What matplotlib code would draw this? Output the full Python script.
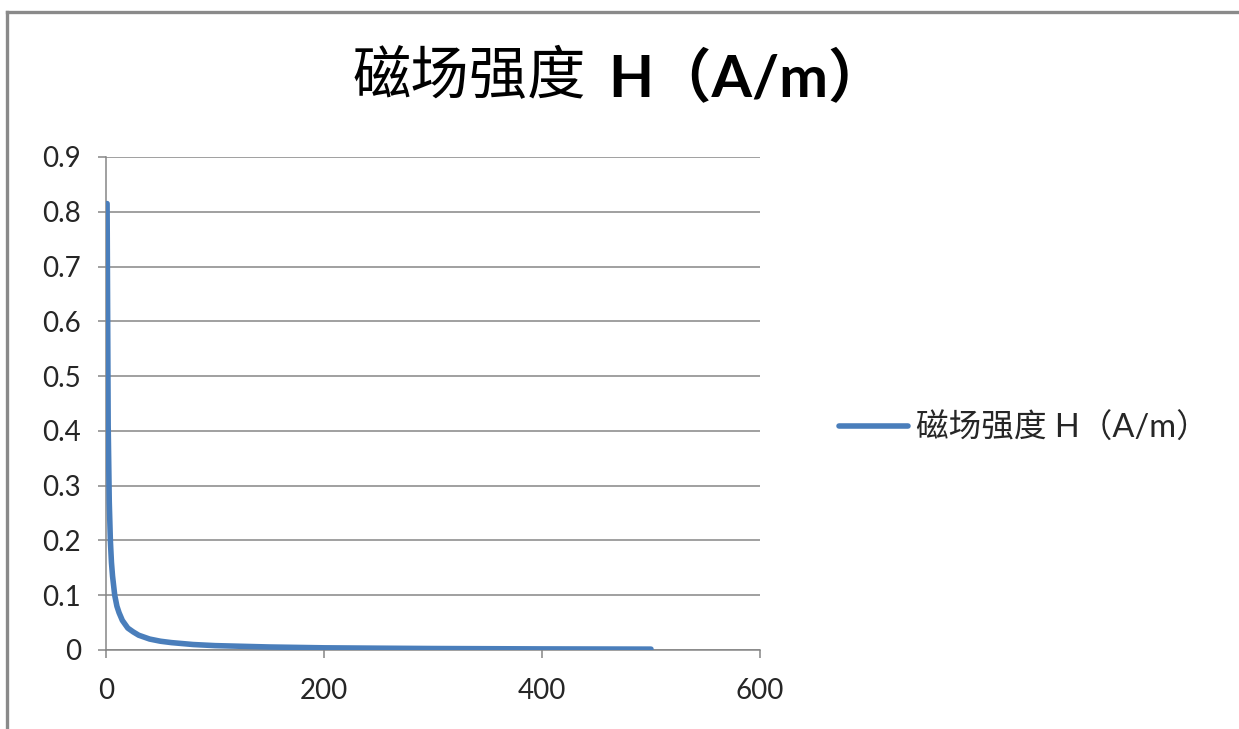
import matplotlib
matplotlib.use("Agg")
import matplotlib.pyplot as plt
from matplotlib.lines import Line2D

plt.rcParams['font.family'] = ['Lato', 'Noto Sans CJK SC', 'DejaVu Sans']

# distance and field strength readings
r_values = [1, 2, 3, 4, 5, 6, 8, 10, 12, 15, 20, 25, 30, 40, 50, 60, 80,
            100, 150, 200, 250, 300, 400, 500]
h_values = [0.815, 0.41, 0.27, 0.2, 0.16, 0.135, 0.10, 0.08, 0.068, 0.054,
            0.04, 0.033, 0.027, 0.02, 0.016, 0.0135, 0.010, 0.008, 0.0055,
            0.004, 0.0033, 0.0027, 0.002, 0.0016]

x_ticks = [0, 200, 400, 600]
y_ticks = [0, 0.1, 0.2, 0.3, 0.4, 0.5, 0.6, 0.7, 0.8, 0.9]
y_labels = ['0', '0.1', '0.2', '0.3', '0.4', '0.5', '0.6', '0.7', '0.8', '0.9']
title_cn = '磁场强度'
title_unit = 'H（A/m）'
series_name = '磁场强度 H（A/m）'

W, H = 1239, 729
fig = plt.figure(figsize=(W / 100, H / 100), dpi=100)
fig.patch.set_facecolor('white')

line_color = '#4A7EBB'
grid_color = '#868686'
text_color = '#262626'

ax = fig.add_axes([106 / W, 1 - 650 / H, (760 - 106) / W, (650 - 157) / H])
ax.plot(r_values, h_values, color=line_color, lw=4.0, solid_capstyle='round',
        solid_joinstyle='round', zorder=3)

ax.set_xlim(0, 600)
ax.set_ylim(0, 0.9)
ax.set_xticks(x_ticks)
ax.set_yticks(y_ticks)
ax.set_yticklabels(y_labels)
ax.yaxis.grid(True, color=grid_color, lw=1.1)
ax.set_axisbelow(True)
for side in ['top', 'right']:
    ax.spines[side].set_visible(False)
for side in ['left', 'bottom']:
    ax.spines[side].set_color(grid_color)
    ax.spines[side].set_linewidth(1.1)
ax.tick_params(axis='both', direction='out', length=6, width=1.1,
               color=grid_color, labelsize=20, labelcolor=text_color)
ax.tick_params(axis='y', pad=12)
ax.tick_params(axis='x', pad=14)

fig.text(352 / W, 1 - 78 / H, title_cn, fontsize=42, ha='left', va='center',
         color='black', family=['Noto Sans CJK SC'])
fig.text(608 / W, 1 - 78 / H, title_unit, fontsize=42, ha='left', va='center',
         color='black', fontweight='bold', family=['Lato', 'Noto Sans CJK SC'])

handle = Line2D([], [], color=line_color, lw=4.0, solid_capstyle='round')
fig.legend([handle], [series_name], loc='center left',
           bbox_to_anchor=(810 / W, 1 - 428 / H), frameon=False,
           fontsize=23.5, handlelength=2.1, handletextpad=0.25,
           labelcolor=text_color)

# chart frame (top and left edges)
fig.add_artist(Line2D([7 / W, 7 / W], [0, 1 - 12 / H], transform=fig.transFigure,
                      color='#8A8A8A', lw=2.4))
fig.add_artist(Line2D([7 / W, 1], [1 - 12 / H, 1 - 12 / H], transform=fig.transFigure,
                      color='#8A8A8A', lw=2.4))

fig.savefig('out.png', dpi=100, facecolor='white')
